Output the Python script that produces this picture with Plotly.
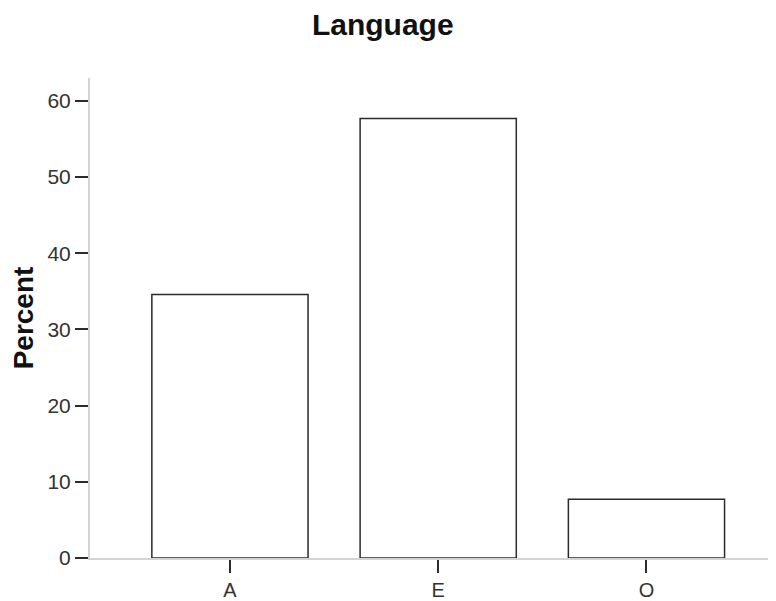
import plotly.graph_objects as go

categories = ["A", "E", "O"]
percent = [34.6, 57.7, 7.7]
y_ticks = [0, 10, 20, 30, 40, 50, 60]

fig = go.Figure()
fig.add_trace(go.Bar(
    x=categories, y=percent, width=0.75,
    marker=dict(color="white", line=dict(color="#2b2b2b", width=1.5)),
    hoverinfo="x+y",
))

fig.update_layout(
    width=768, height=593,
    margin=dict(l=82, r=0, t=70, b=43, autoexpand=False),
    paper_bgcolor="white", plot_bgcolor="white",
    showlegend=False,
    title=dict(text="<b>Language</b>", x=0.488, xanchor="center", y=0.972, yanchor="middle",
               font=dict(family="Liberation Sans, Arial", size=30, color="#111")),
    font=dict(family="Liberation Sans, Arial", size=21, color="#333"),
    xaxis=dict(
        range=[-0.672, 2.622], showgrid=False, zeroline=False, automargin=False,
        showline=True, linecolor="#d4d4d4", linewidth=2,
        ticks="outside", ticklen=13, tickwidth=2, tickcolor="#2b2b2b",
        tickfont=dict(size=20, color="#333"),
    ),
    yaxis=dict(
        range=[0, 63], tickvals=y_ticks, showgrid=False, zeroline=False, automargin=False,
        showline=True, linecolor="#d4d4d4", linewidth=2,
        ticks="outside", ticklen=13, tickwidth=2, tickcolor="#2b2b2b",
        tickfont=dict(size=21, color="#333"),
        title=dict(text="<b>Percent</b>", font=dict(size=28, color="#111"), standoff=12),
    ),
)

fig.write_html("out.html")
